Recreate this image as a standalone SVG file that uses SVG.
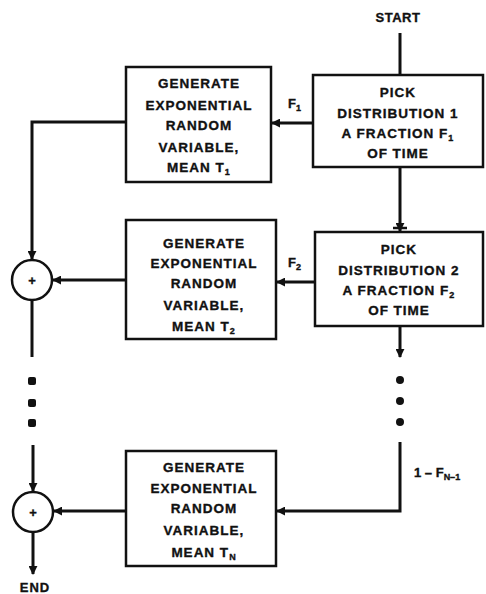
<svg xmlns="http://www.w3.org/2000/svg" width="486" height="594" viewBox="0 0 486 594">
<style>
  .box { fill: #fff; stroke: #111; stroke-width: 2.5; }
  .t { font-family: "Liberation Sans", Arial, sans-serif; font-weight: bold; font-size: 13.5px; letter-spacing: 1px; fill: #111; stroke: #111; stroke-width: 0.35; text-anchor: middle; }
  .lbl { font-family: "Liberation Sans", Arial, sans-serif; font-weight: bold; font-size: 13px; fill: #111; stroke: #111; stroke-width: 0.35; }
  .sub { font-size: 9px; }
  .c { fill: none; stroke: #111; stroke-width: 3; }
  .dot { fill: #111; }
  .sum { fill: #fff; stroke: #111; stroke-width: 2.5; }
</style>
<defs>
  <marker id="arr" viewBox="0 0 10 10" refX="9" refY="5" markerWidth="9" markerHeight="9" markerUnits="userSpaceOnUse" orient="auto">
    <path d="M0,0 L10,5 L0,10 z" fill="#111"/>
  </marker>
</defs>
<rect width="486" height="594" fill="#fff"/>

<g id="connectors">
  <line class="c" x1="400" y1="33" x2="400" y2="75"/>
  <line class="c" x1="313" y1="123" x2="272" y2="123" marker-end="url(#arr)"/>
  <path class="c" d="M126,122 H32 V259" marker-end="url(#arr)"/>
  <line class="c" x1="400" y1="167" x2="400" y2="231" marker-end="url(#arr)"/>
  <line x1="393" y1="228" x2="407" y2="228" stroke="#111" stroke-width="2.5"/>
  <line class="c" x1="315" y1="282" x2="277" y2="282" marker-end="url(#arr)"/>
  <line class="c" x1="126" y1="280" x2="53" y2="280" marker-end="url(#arr)"/>
  <line class="c" x1="32" y1="300" x2="32" y2="357"/>
  <line class="c" x1="33" y1="445" x2="33" y2="491" marker-end="url(#arr)"/>
  <line class="c" x1="400" y1="326" x2="400" y2="357" marker-end="url(#arr)"/>
  <path class="c" d="M400,442 V511 H277" marker-end="url(#arr)"/>
  <line class="c" x1="126" y1="511" x2="54" y2="511" marker-end="url(#arr)"/>
  <line class="c" x1="33" y1="532" x2="33" y2="574" marker-end="url(#arr)"/>
  <rect class="dot" x="28" y="377" width="8" height="8" rx="2"/>
  <rect class="dot" x="28" y="399" width="8" height="8" rx="2"/>
  <rect class="dot" x="28" y="419" width="8" height="8" rx="2"/>
  <circle class="dot" cx="400" cy="380" r="4"/>
  <circle class="dot" cx="400" cy="401" r="4"/>
  <circle class="dot" cx="400" cy="422" r="4"/>
</g>

<g id="start"><text class="lbl" x="398" y="22" text-anchor="middle" letter-spacing="0.5">START</text></g>
<g id="end"><text class="lbl" x="35" y="592" text-anchor="middle" font-size="14" letter-spacing="1">END</text></g>

<g id="pick1">
  <rect class="box" x="313" y="75" width="170" height="92"/>
  <text class="t" x="398" y="97">PICK</text>
  <text class="t" x="398" y="118">DISTRIBUTION 1</text>
  <text class="t" x="398" y="138">A FRACTION F<tspan class="sub" dy="3">1</tspan></text>
  <text class="t" x="398" y="158">OF TIME</text>
</g>

<g id="gen1">
  <rect class="box" x="126" y="67" width="145" height="115"/>
  <text class="t" x="199" y="88">GENERATE</text>
  <text class="t" x="199" y="110">EXPONENTIAL</text>
  <text class="t" x="199" y="130">RANDOM</text>
  <text class="t" x="199" y="152">VARIABLE,</text>
  <text class="t" x="199" y="172">MEAN T<tspan class="sub" dy="3">1</tspan></text>
</g>

<g id="labelF1"><text class="lbl" x="288" y="108">F<tspan class="sub" dy="3">1</tspan></text></g>

<g id="pick2">
  <rect class="box" x="315" y="232" width="168" height="94"/>
  <text class="t" x="399" y="254">PICK</text>
  <text class="t" x="399" y="275">DISTRIBUTION 2</text>
  <text class="t" x="399" y="295">A FRACTION F<tspan class="sub" dy="3">2</tspan></text>
  <text class="t" x="399" y="315">OF TIME</text>
</g>

<g id="gen2">
  <rect class="box" x="126" y="220" width="150" height="119"/>
  <text class="t" x="204" y="248">GENERATE</text>
  <text class="t" x="204" y="268">EXPONENTIAL</text>
  <text class="t" x="204" y="288">RANDOM</text>
  <text class="t" x="204" y="310">VARIABLE,</text>
  <text class="t" x="204" y="331">MEAN T<tspan class="sub" dy="3">2</tspan></text>
</g>

<g id="labelF2"><text class="lbl" x="288" y="267">F<tspan class="sub" dy="3">2</tspan></text></g>

<g id="sum1">
  <circle class="sum" cx="32" cy="280" r="20"/>
  <text class="lbl" x="32" y="285" text-anchor="middle" font-size="13">+</text>
</g>

<g id="gen3">
  <rect class="box" x="126" y="451" width="150" height="115"/>
  <text class="t" x="204" y="472">GENERATE</text>
  <text class="t" x="204" y="493">EXPONENTIAL</text>
  <text class="t" x="204" y="513">RANDOM</text>
  <text class="t" x="204" y="535">VARIABLE,</text>
  <text class="t" x="204" y="557">MEAN T<tspan class="sub" dy="3">N</tspan></text>
</g>

<g id="labelFN"><text class="lbl" x="414" y="477">1 – F<tspan class="sub" dy="3">N–1</tspan></text></g>

<g id="sum3">
  <circle class="sum" cx="33" cy="512" r="20"/>
  <text class="lbl" x="33" y="517" text-anchor="middle" font-size="13">+</text>
</g>
</svg>
